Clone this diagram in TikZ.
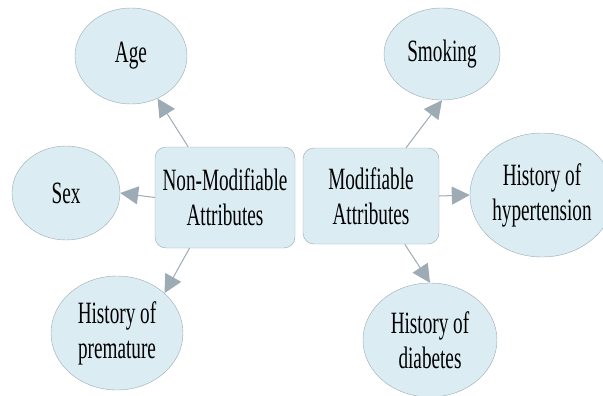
\documentclass[tikz,border=0pt]{standalone}
\usepackage{fontspec}
\setmainfont{Liberation Serif}[FakeStretch=0.62]
\usetikzlibrary{shapes.geometric, arrows.meta}

\begin{document}
\begin{tikzpicture}[x=1pt, y=-1pt]
    \definecolor{borderColour}{HTML}{9AAAB4}
    \definecolor{fillColour}{HTML}{DBECF3}
    \definecolor{arrowColour}{HTML}{9DABB4}

    \tikzset{
        attr/.style={ellipse, draw=borderColour, fill=fillColour, inner sep=0pt,
            align=center, font=\fontsize{31}{35}\selectfont},
        group/.style={rectangle, rounded corners=11pt, draw=borderColour, fill=fillColour,
            inner sep=0pt, align=center, font=\fontsize{31}{35}\selectfont},
        link/.style={draw=arrowColour, line width=1pt,
            -{Triangle[length=18pt, width=18pt]}}
    }

    % Page size of the reference
    \useasboundingbox (0,0) rectangle (603,396);

    % Centre boxes
    \node[group, minimum width=140pt, minimum height=101pt] (nonmod) at (225,197.5) {Non-Modifiable\\Attributes};
    \node[group, minimum width=136pt, minimum height=96pt] (mod) at (371,196) {Modifiable\\Attributes};

    % Non-modifiable attributes
    \node[attr, minimum width=112pt, minimum height=96pt] (age) at (131,56) {Age};
    \node[attr, minimum width=108pt, minimum height=94pt] (sex) at (66,193) {Sex};
    \node[attr, minimum width=132pt, minimum height=114pt] (premature) at (117,333) {History of\\premature};

    % Modifiable attributes
    \node[attr, minimum width=116pt, minimum height=92pt] (smoking) at (442,54) {Smoking};
    \node[attr, minimum width=144pt, minimum height=124pt] (hypertension) at (542,195) {History of\\hypertension};
    \node[attr, minimum width=134pt, minimum height=114pt] (diabetes) at (430,340) {History of\\diabetes};

    % Connectors
    \draw[link] (nonmod.126) -- (age.-58);
    \draw[link] (nonmod.180) -- (sex.0);
    \draw[link] (nonmod.235) -- (premature.40);
    \draw[link] (mod.54) -- (smoking.-90);
    \draw[link] (mod.0) -- (hypertension.180);
    \draw[link] (mod.-55) -- (diabetes.90);

\end{tikzpicture}
\end{document}
